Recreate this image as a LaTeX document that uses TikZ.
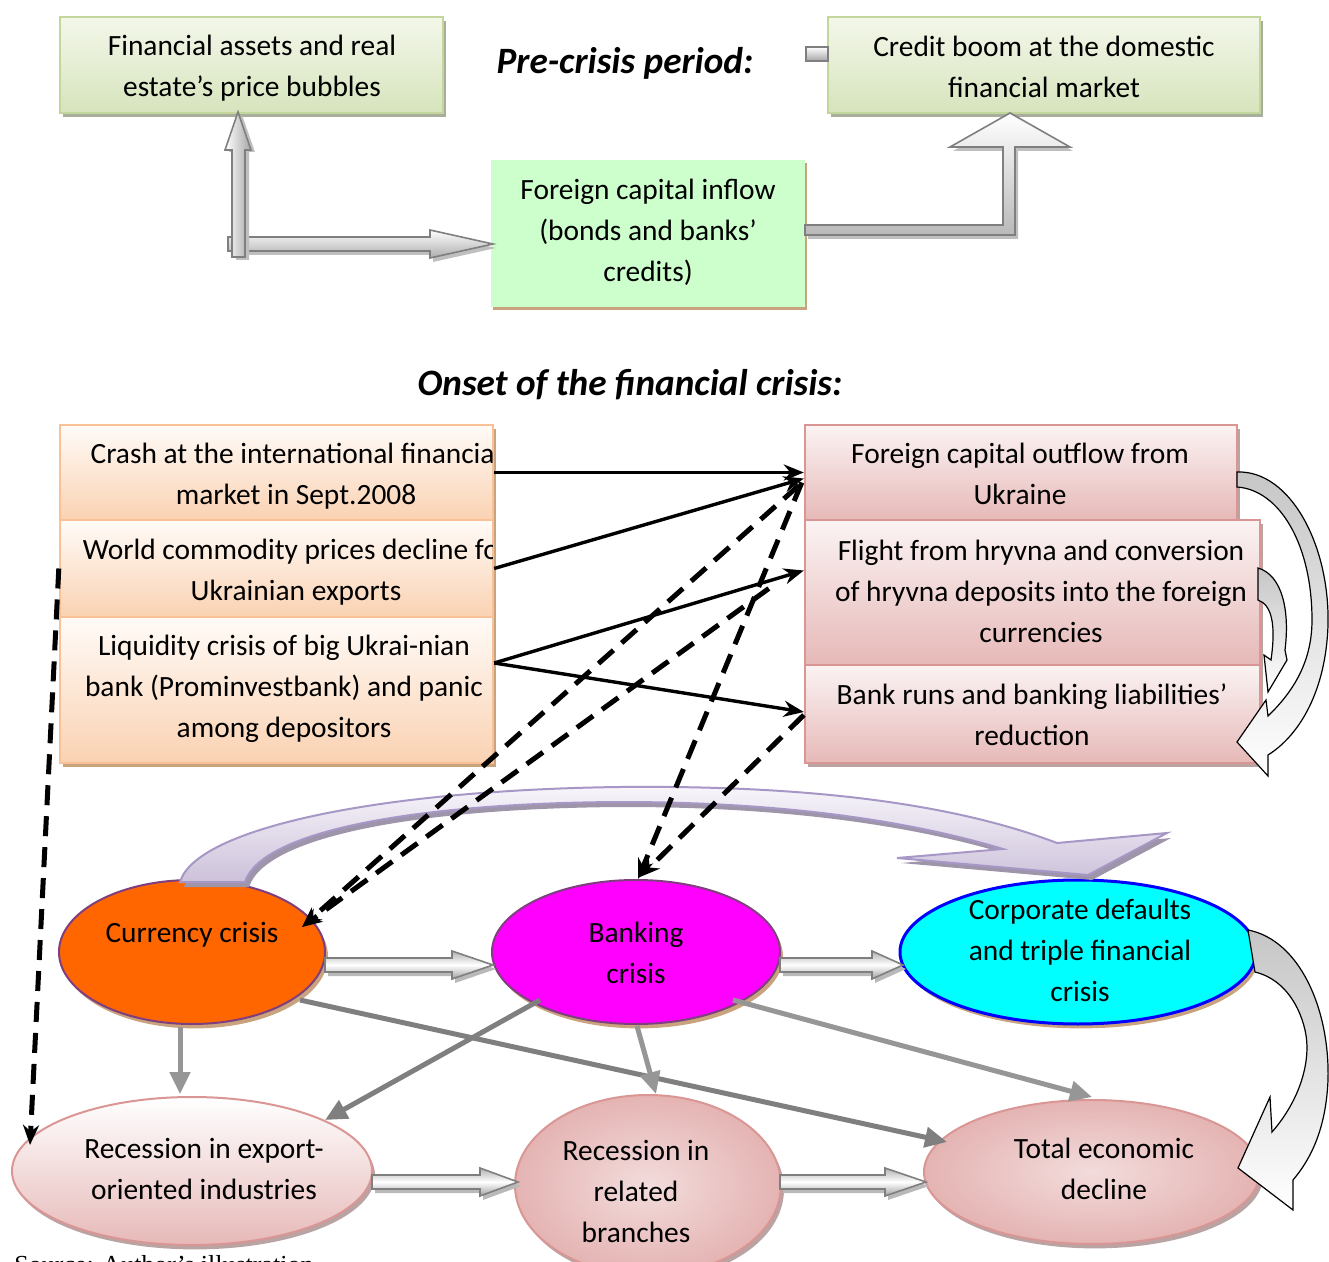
\documentclass[tikz,border=0pt]{standalone}
\usepackage{fontspec}
\setmainfont{Carlito}
\newfontfamily\srcfont{Liberation Serif}
\usetikzlibrary{shapes.geometric,arrows.meta,calc,shadows}
\definecolor{grnT}{HTML}{F3F7EA}
\definecolor{grnB}{HTML}{D7E4BD}
\definecolor{grnE}{HTML}{C3D69B}
\definecolor{grnS}{HTML}{A8AD9C}
\definecolor{mint}{HTML}{CCFFCC}
\definecolor{tanS}{HTML}{C9A27E}
\definecolor{pchT}{HTML}{FFFBF8}
\definecolor{pchB}{HTML}{FAD2B2}
\definecolor{pchE}{HTML}{F9C195}
\definecolor{pnkT}{HTML}{FBF3F3}
\definecolor{pnkB}{HTML}{E6B9B8}
\definecolor{pnkE}{HTML}{D99694}
\definecolor{pnkS}{HTML}{B9A3A3}
\definecolor{curF}{HTML}{FF6600}
\definecolor{bankF}{HTML}{FF00FF}
\definecolor{corpF}{HTML}{00FFFF}
\definecolor{corpE}{HTML}{0000FF}
\definecolor{ellE}{HTML}{7F3F7F}
\definecolor{lavT}{HTML}{F8F6FB}
\definecolor{lavB}{HTML}{CCC1DA}
\definecolor{lavE}{HTML}{A797C6}
\definecolor{lavS}{HTML}{9E95AA}
\definecolor{gryL}{HTML}{969696}
\definecolor{gryD}{HTML}{7F7F7F}
\newcommand\fs{\fontsize{14.7}{20.5}\selectfont}
\newcommand\hblock[4]{%
  \fill[gray!55] (#1+3,#4-7+4) -- (#2+3,#4-7+4) -- (#2+3,#4-14+4) -- (#3+3,#4+4) -- (#2+3,#4+14+4) -- (#2+3,#4+7+4) -- (#1+3,#4+7+4) -- cycle;
  \draw[draw=gryD, line width=0.8pt, top color=gray!60, bottom color=gray!75, middle color=white]
    (#1,#4-7) -- (#2,#4-7) -- (#2,#4-14) -- (#3,#4) -- (#2,#4+14) -- (#2,#4+7) -- (#1,#4+7) -- cycle;}
\begin{document}
\begin{tikzpicture}[x=0.5pt,y=-0.5pt,
  txt/.style={align=center, font=\fs, inner sep=0pt},
  head/.style={font=\fontsize{18.6}{22}\selectfont\bfseries\itshape, inner sep=0pt},
  gbox/.style={draw=grnE, line width=1.2pt, top color=grnT, bottom color=grnB, inner sep=0pt,
     drop shadow={shadow xshift=1.6pt, shadow yshift=-1.8pt, fill=grnS, opacity=1}},
  mbox/.style={fill=mint, inner sep=0pt,
     drop shadow={shadow xshift=1.2pt, shadow yshift=-1.5pt, fill=tanS, opacity=1}},
  pbox/.style={draw=pchE, line width=1.2pt, top color=pchT, bottom color=pchB, inner sep=0pt,
     drop shadow={shadow xshift=1.6pt, shadow yshift=-1.8pt, fill=tanS, opacity=1}},
  kbox/.style={draw=pnkE, line width=1.2pt, top color=pnkT, bottom color=pnkB, inner sep=0pt,
     drop shadow={shadow xshift=1.6pt, shadow yshift=-1.8pt, fill=pnkS, opacity=1}},
  ell/.style={ellipse, inner sep=0pt, line width=1pt},
  tanshadow/.style={drop shadow={shadow xshift=1.5pt, shadow yshift=-2.2pt, fill=tanS, opacity=1}},
  pnkshadow/.style={drop shadow={shadow xshift=1.5pt, shadow yshift=-2.2pt, fill=pnkS, opacity=1}},
  solidarr/.style={line width=1.7pt, -{Stealth[length=10pt,width=8pt]}},
  dasharr/.style={line width=2.5pt, dash pattern=on 10pt off 5.5pt, -{Stealth[length=10pt,width=8pt]}},
  grayarr/.style={line width=2.5pt, -{Triangle[length=11pt,width=10pt]}},
  curvearr/.style={draw=black, line width=0.6pt, top color=gray!45, bottom color=white}
]
\useasboundingbox (0,0) rectangle (1329,1262);

% ---------- pre-crisis ----------
\node[head] (pre) at (625,63) {Pre-crisis period:};
\node[gbox, minimum width=191.5pt, minimum height=48pt] (b1) at (251.5,65) {};
\node[txt] (b1t) at (252,68) {Financial assets and real\\estate’s price bubbles};
\node[gbox, minimum width=216pt, minimum height=48pt] (b2) at (1044,65) {};
\node[txt] (b2t) at (1044,67) {Credit boom at the domestic\\financial market};
\node[mbox, minimum width=157pt, minimum height=73.5pt] (b3) at (648,233.5) {};
\node[txt] (b3t) at (648,232) {Foreign capital inflow\\(bonds and banks’\\credits)};

% small stub left of credit boom box
\draw[draw=gryD, line width=0.8pt, top color=white, bottom color=gray!70] (806,47) rectangle (828,61);

% L-shaped block arrow (left)
\fill[gray!50] (231,241) -- (433,241) -- (433,234) -- (496,248) -- (433,262) -- (433,255) -- (231,255) -- cycle;
\draw[draw=gryD, line width=0.8pt, top color=white, bottom color=gray!65]
  (228,237) -- (430,237) -- (430,230) -- (493,244) -- (430,258) -- (430,251) -- (228,251) -- cycle;
\fill[gray!50] (236,152) -- (229,152) -- (242,115) -- (255,152) -- (249,152) -- (249,260) -- (236,260) -- cycle;
\draw[draw=gryD, line width=0.8pt, left color=white, right color=gray!70]
  (232,150) -- (225,150) -- (238,112) -- (251,150) -- (245,150) -- (245,257) -- (232,257) -- cycle;

% block arrow to credit boom
\fill[gray!50] (808,229) -- (1006,229) -- (1006,151) -- (953,151) -- (1013,117) -- (1073,151) -- (1018,151) -- (1018,239) -- (808,239) -- cycle;
\draw[draw=gryD, line width=0.8pt, top color=white, bottom color=gray!55]
  (805,225) -- (1003,225) -- (1003,147) -- (950,147) -- (1010,113) -- (1070,147) -- (1015,147) -- (1015,235) -- (805,235) -- cycle;

% ---------- onset ----------
\node[head] (onset) at (630,385) {Onset of the financial crisis:};

\node[pbox, minimum width=216.5pt, minimum height=47.5pt] (crash) at (276.5,472.5) {};
\node[pbox, minimum width=216.5pt, minimum height=48.5pt] (world) at (276.5,568.5) {};
\node[pbox, minimum width=216.5pt, minimum height=73pt] (liq) at (276.5,690) {};
\begin{scope}
  \clip (60,425) rectangle (492,763);
  \node[txt] (crasht) at (296,476) {Crash at the international financial\\market in Sept.2008};
  \node[txt] (worldt) at (296,572) {World commodity prices decline for\\Ukrainian exports};
\end{scope}
\node[txt] (liqt) at (284,689) {Liquidity crisis of big Ukrai-nian\\bank (Prominvestbank) and panic\\among depositors};

\node[kbox, minimum width=216pt, minimum height=47.5pt] (fout) at (1021,472.5) {};
\node[kbox, minimum width=227.5pt, minimum height=72.5pt] (flight) at (1032.5,592.5) {};
\node[kbox, minimum width=227.5pt, minimum height=49pt] (runs) at (1032.5,714) {};
\node[txt] (foutt) at (1020,474) {Foreign capital outflow from\\Ukraine};
\node[txt] (flightt) at (1041,591) {Flight from hryvna and conversion\\of hryvna deposits into the foreign\\currencies};
\node[txt] (runst) at (1032,715) {Bank runs and banking liabilities’\\reduction};

% right curved arrows
\draw[curvearr] (1237,472) .. controls (1290,470) and (1330,545) .. (1328,625)
  .. controls (1326,690) and (1300,735) .. (1268,755) -- (1268,776) -- (1237,742) -- (1266,700) -- (1268,716)
  .. controls (1295,690) and (1312,660) .. (1312,620) .. controls (1312,545) and (1280,490) .. (1237,487) -- cycle;
\draw[curvearr] (1258,568) .. controls (1282,575) and (1290,610) .. (1285,650) -- (1287,660) -- (1268,692) -- (1264,655) -- (1271,660)
  .. controls (1276,625) and (1272,605) .. (1258,600) -- cycle;

% ---------- ellipses ----------
\node[ell, draw=ellE, fill=curF, tanshadow, minimum width=133pt, minimum height=72pt] (cur) at (192,952) {};
\node[ell, draw=ellE, fill=bankF, tanshadow, minimum width=144pt, minimum height=72pt] (bank) at (636,952) {};
\node[ell, draw=corpE, line width=1.5pt, fill=corpF, tanshadow, minimum width=178pt, minimum height=72pt] (corp) at (1078,952) {};
\node[ell, draw=pnkE, top color=white, bottom color=pnkB, pnkshadow, minimum width=180pt, minimum height=74pt] (rexp) at (192,1171) {};
\node[ell, draw=pnkE, inner color=pnkT!60!pnkB, outer color=pnkB!85!pnkE, pnkshadow, minimum width=133pt, minimum height=90pt] (rrel) at (648,1185) {};
\node[ell, draw=pnkE, inner color=pnkT!60!pnkB, outer color=pnkB!85!pnkE, pnkshadow, minimum width=168pt, minimum height=72pt] (total) at (1092,1172) {};

\node[txt] (curt) at (192,935) {Currency crisis};
\node[txt] (bankt) at (636,953) {Banking\\crisis};
\node[txt] (corpt) at (1080,950) {Corporate defaults\\and triple financial\\crisis};
\node[txt] (rexpt) at (204,1169) {Recession in export-\\oriented industries};
\node[txt] (rrelt) at (636,1191) {Recession in\\related\\branches};
\node[txt] (totalt) at (1104,1169) {Total economic\\decline};

% curved arrow from corporate defaults
\draw[curvearr] (1248,930) .. controls (1300,940) and (1330,1010) .. (1328,1080)
  .. controls (1326,1130) and (1310,1160) .. (1293,1180) -- (1293,1210) -- (1238,1168) -- (1270,1097) -- (1272,1132)
  .. controls (1300,1100) and (1312,1060) .. (1305,1030) .. controls (1298,1000) and (1280,978) .. (1255,972) -- cycle;

% block arrows between ellipses
\hblock{325}{452}{493}{965}
\hblock{780}{872}{903}{965}
\hblock{372}{480}{518}{1182}
\hblock{780}{885}{926}{1182}

% lavender curved band
\fill[lavS] (184,887) .. controls (200,833) and (384,795) .. (624,792) .. controls (824,790) and (964,811) .. (1061,848)
  -- (1171,838) -- (1092,880) -- (901,863) -- (1007,854)
  .. controls (904,823) and (774,807) .. (624,807) .. controls (424,808) and (266,835) .. (249,887) -- cycle;
\draw[draw=lavE, line width=1pt, top color=lavT, bottom color=lavB]
  (180,882) .. controls (196,828) and (380,790) .. (620,787) .. controls (820,785) and (960,806) .. (1057,843)
  -- (1167,833) -- (1088,875) -- (897,858) -- (1003,849)
  .. controls (900,818) and (770,802) .. (620,802) .. controls (420,803) and (262,830) .. (245,882) -- cycle;

% gray arrows
\draw[grayarr, gryL] ($(cur.south)+(-12,2)$) -- ($(rexp.north)+(-12,-2)$);
\draw[grayarr, gryD] ($(bank.center)+(-96,48)$) -- ($(rexp.center)+(133,-51)$);
\draw[grayarr, gryD] ($(cur.center)+(108,48)$) -- ($(total.center)+(-145,-30)$);
\draw[grayarr, gryL] ($(bank.south)+(1,1)$) -- ($(rrel.north)+(8,0)$);
\draw[grayarr, gryL] ($(bank.center)+(97,48)$) -- ($(total.north)+(0,-2)$);

% solid black arrows
\draw[solidarr] (crash.east) -- (fout.west);
\draw[solidarr] (world.east) -- ($(fout.west)+(0,6)$);
\draw[solidarr] ($(liq.east)+(0,-27)$) -- ($(flight.west)+(0,-22)$);
\draw[solidarr] ($(liq.east)+(0,-27)$) -- ($(runs.west)+(0,-2)$);

% dashed arrows
\coordinate (cTip) at ($(cur.center)+(110,-25)$);
\coordinate (cStart) at ($(flight.west)+(-35,-4)$);
\draw[dasharr] ($(fout.west)+(-2,10)$) -- ($(bank.north)+(2,0)$);
\draw[dasharr] ($(runs.west)+(0,1)$) -- ($(bank.north)+(4,-2)$);
\draw[dasharr] ($(fout.west)+(-5,13)$) -- (cTip);
\draw[dasharr] (cStart) -- (cTip);
\draw[dasharr] (world.west) -- ($(rexp.center)+(-162,-26)$);

% source line (cut off at the bottom, as in the original)
\node[anchor=base west, inner sep=0pt, font=\srcfont\fontsize{13}{15}\selectfont] (src) at (14,1273) {Source: Author’s illustration};
\end{tikzpicture}
\end{document}
